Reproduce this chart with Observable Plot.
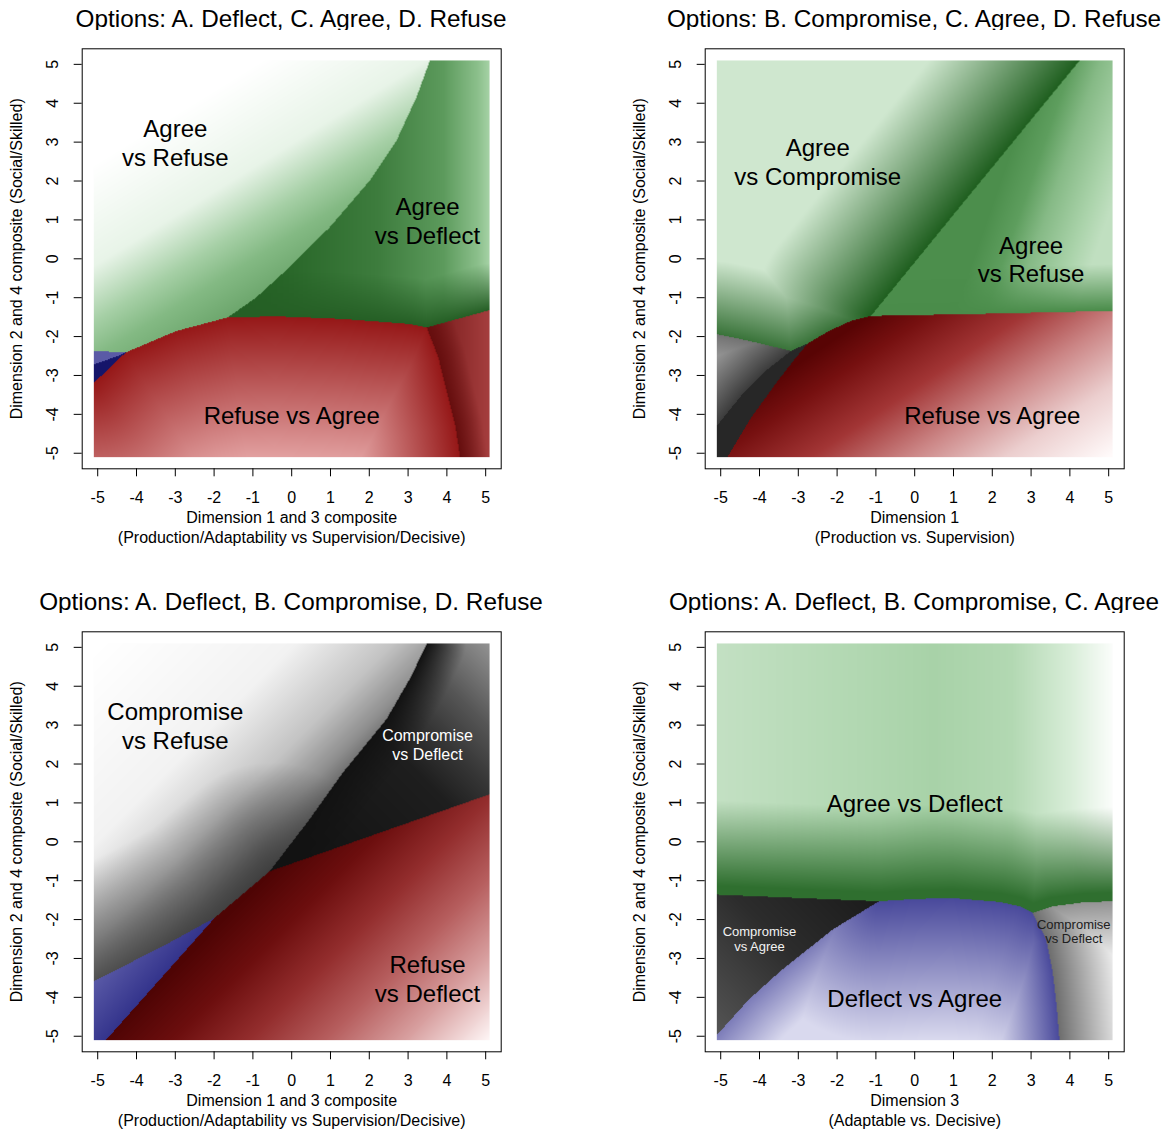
<!DOCTYPE html>
<html><head><meta charset="utf-8">
<script src="https://cdn.jsdelivr.net/npm/d3@7"></script>
<script src="https://cdn.jsdelivr.net/npm/@observablehq/plot@0.6"></script>
<style>
body{margin:0;background:#fff;font-family:"Liberation Sans",Arial,sans-serif;}
#root{position:relative;width:1163px;height:1132px;overflow:hidden;background:#fff;}
.panel{position:absolute;}
.title{position:absolute;font-size:24.3px;line-height:28px;text-align:center;white-space:nowrap;color:#000;}
</style></head><body><div id="root"></div><script>
// ---------- data: axes ----------
const xTicks = [-5,-4,-3,-2,-1,0,1,2,3,4,5];
const yTicks = [-5,-4,-3,-2,-1,0,1,2,3,4,5];
const titles = [
  "Options: A. Deflect, C. Agree, D. Refuse",
  "Options: B. Compromise, C. Agree, D. Refuse",
  "Options: A. Deflect, B. Compromise, D. Refuse",
  "Options: A. Deflect, B. Compromise, C. Agree"
];
const xTitles = [
  "Dimension 1 and 3 composite\n(Production/Adaptability vs Supervision/Decisive)",
  "Dimension 1\n(Production vs. Supervision)",
  "Dimension 1 and 3 composite\n(Production/Adaptability vs Supervision/Decisive)",
  "Dimension 3\n(Adaptable vs. Decisive)"
];
const yTitle = "Dimension 2 and 4 composite (Social/Skilled)";
const E = 5.1; // extent of the evaluated grid

// ---------- data: region boundaries ----------
// Panel 1
const p1Diag = [[3.56,5.1],[3.22,4.16],[2.70,3.04],[2.01,2.01],[0.98,0.81],[-0.06,-0.22],[-0.92,-1.0],[-1.65,-1.51]];
const p1RedTopLeft = [[-4.28,-2.41],[-2.98,-1.86],[-1.65,-1.51]];
const p1RedTopRight = [[-1.65,-1.51],[-0.40,-1.48],[1.32,-1.55],[3.04,-1.68],[3.48,-1.77]];
const p1DarkRedTop = [[3.48,-1.77],[5.1,-1.32]];
const p1DarkRedLeft = [[3.48,-1.77],[3.78,-2.54],[3.99,-3.40],[4.21,-4.26],[4.34,-5.1]];
const p1BlueTop = [[-5.1,-2.37],[-4.28,-2.41]];
const p1BlueSplit = [[-4.28,-2.41],[-4.4,-2.47],[-5.1,-2.72]];
const p1BlueBottom = [[-4.28,-2.41],[-5.1,-3.19]];
// Panel 2
const p2Diag = [[4.25,5.1],[1.56,1.82],[-1.13,-1.47]];
const p2RedTop = [[-1.13,-1.47],[2,-1.41],[5.1,-1.34]];
const p2RedGreen = [[-2.76,-2.18],[-2.2,-1.85],[-1.64,-1.6],[-1.13,-1.47]];
const p2BlackTop = [[-3.19,-2.37],[-2.76,-2.18]];
const p2GrayTop = [[-5.1,-1.94],[-4.28,-2.11],[-3.19,-2.37]];
const p2GrayBlack = [[-3.19,-2.37],[-3.85,-2.89],[-4.45,-3.49],[-5.1,-4.3]];
const p2BlackRed = [[-2.76,-2.18],[-3.1,-2.59],[-3.53,-3.14],[-4.22,-4.09],[-4.83,-5.1]];
// Panel 3
const p3Diag = [[3.49,5.1],[3.04,4.18],[2.44,3.15],[1.32,1.78],[0.46,0.58],[-0.57,-0.76]];
const p3RedTop = [[-0.57,-0.76],[5.1,1.22]];
const p3GrayRed = [[-0.57,-0.76],[-1.99,-1.96]];
const p3BlueRed = [[-1.99,-1.96],[-4.79,-5.1]];
const p3GrayBlue = [[-1.99,-1.96],[-3.2,-2.62],[-5.1,-3.59]];
// Panel 4
const p4GreenBlack = [[-5.1,-1.36],[-0.92,-1.53]];
const p4GreenBlue = [[-0.92,-1.53],[0.03,-1.47],[0.98,-1.45],[2.18,-1.55],[2.7,-1.66],[3.04,-1.83]];
const p4GreenGray = [[3.04,-1.83],[3.56,-1.66],[4.34,-1.56],[5.1,-1.53]];
const p4BlackBlue = [[-0.92,-1.53],[-2.12,-2.26],[-3.42,-3.29],[-4.28,-4.06],[-5.1,-4.97]];
const p4BlueGray = [[3.04,-1.83],[3.39,-2.52],[3.56,-3.38],[3.66,-4.25],[3.73,-5.1]];

// ---------- data: region labels ----------
const labels1 = [{x:-3,y:3,text:"Agree\nvs Refuse"},{x:3.5,y:1,text:"Agree\nvs Deflect"},{x:0,y:-4,text:"Refuse vs Agree"}];
const labels2 = [{x:-2.5,y:2.5,text:"Agree\nvs Compromise"},{x:3,y:0,text:"Agree\nvs Refuse"},{x:2,y:-4,text:"Refuse vs Agree"}];
const labels3 = [{x:-3,y:3,text:"Compromise\nvs Refuse"},{x:3.5,y:-3.5,text:"Refuse\nvs Deflect"}];
const labels3small = [{x:3.5,y:2.5,text:"Compromise\nvs Deflect"}];
const labels4 = [{x:0,y:1,text:"Agree vs Deflect"},{x:0,y:-4,text:"Deflect vs Agree"}];
const labels4white = [{x:-4,y:-2.5,text:"Compromise\nvs Agree"}];
const labels4dark = [{x:4.1,y:-2.3,text:"Compromise\nvs Deflect"}];

// ---------- helpers ----------
const rev = a => a.slice().reverse();
const poly = (...parts) => parts.flat();
function segDist(x, y, a, b) {
  const dx = b[0]-a[0], dy = b[1]-a[1];
  const l2 = dx*dx + dy*dy;
  let t = l2 ? ((x-a[0])*dx + (y-a[1])*dy)/l2 : 0;
  t = Math.max(0, Math.min(1, t));
  return Math.hypot(a[0]+t*dx-x, a[1]+t*dy-y);
}
function lineDist(x, y, lines) {
  let m = Infinity;
  for (const pts of lines) for (let i = 0; i < pts.length-1; i++) m = Math.min(m, segDist(x, y, pts[i], pts[i+1]));
  return m;
}
function shader(s) {
  let base;
  if (typeof s.base === "string") base = () => s.base;
  else {
    const sc = d3.scaleLinear().domain(s.base.stops.map(d=>d[0])).range(s.base.stops.map(d=>d[1])).clamp(true);
    const [a,b] = s.base.dir;
    base = (x,y) => sc(a*x + b*y);
  }
  const edges = s.edges || [];
  const g = s.gamma ?? 1;
  return (x, y) => {
    const c = base(x, y);
    if (!edges.length) return c;
    let t = 1;
    for (const e of edges) t = Math.min(t, (e.t0 || 0) + lineDist(x, y, e.lines)/e.fade);
    if (t >= 1) return c;
    return d3.interpolateRgb(s.dark, c)(Math.pow(Math.max(0, t), g));
  };
}

// ---------- regions with their shading (style) ----------
const regions = [
 [ // panel 1
  {poly: poly([[-E,E]], p1Diag, rev(p1RedTopLeft), rev(p1BlueTop)),
   shade: {base:{dir:[1,-1.62], stops:[[-9,"#ffffff"],[-4.8,"#e8f4e8"],[-2.5,"#a6d0a6"],[-1,"#84ba84"],[1,"#6aa46a"]]}}},
  {poly: poly([[E,E]], rev(p1DarkRedTop), rev(p1RedTopRight), rev(p1Diag)),
   shade: {base:{dir:[1,0], stops:[[-1.7,"#1f5c1f"],[0,"#2a682a"],[2.2,"#3d7c3d"],[3.9,"#5c9a5c"],[4.8,"#8cc08c"],[5.1,"#a6d2a6"]]},
           dark:"#255f25", edges:[{lines:[p1RedTopRight,p1DarkRedTop], fade:1.2}]}},
  {poly: poly(p1DarkRedTop, [[E,-E]], rev(p1DarkRedLeft)),
   shade: {base:{dir:[1,0], stops:[[3.5,"#741818"],[5.1,"#a53e3e"]]}, dark:"#660e0e", edges:[{lines:[p1DarkRedLeft], fade:0.7}]}},
  {poly: poly(p1BlueTop, p1BlueSplit), shade:{base:"#5a5aa6"}},
  {poly: poly(p1BlueSplit, rev(p1BlueBottom)), shade:{base:"#15156a"}},
  {poly: null, shade:{base:"#e2a0a0", dark:"#961818",
   edges:[{lines:[p1BlueBottom,p1RedTopLeft,p1RedTopRight], fade:3.6},{lines:[p1DarkRedLeft], fade:2.6}]}}
 ],
 [ // panel 2
  {poly: poly([[E,E]], rev(p2RedTop), rev(p2Diag)),
   shade: {base:{dir:[1,-0.35], stops:[[1.5,"#4c8e4c"],[2.3,"#5e9e5e"],[3,"#86ba86"],[4,"#aad3aa"],[4.6,"#c0dfc0"]]},
           dark:"#4a8c4a", edges:[{lines:[p2RedTop], fade:1.2}]}},
  {poly: poly(p2RedGreen, p2RedTop, [[E,-E]], rev(p2BlackRed)),
   shade: {base:{dir:[1,-1.5], stops:[[1,"#580404"],[2.5,"#761010"],[5,"#a33636"],[7.5,"#cc8686"],[10,"#eccfcf"],[12.6,"#fffafa"]]}}},
  {poly: poly(p2GrayTop, p2GrayBlack),
   shade: {base:"#b6b6b6", dark:"#3c3c3c", edges:[{lines:[p2GrayBlack], fade:1.6},{lines:[p2GrayTop], t0:0.45, fade:2}]}},
  {poly: poly(p2BlackTop, p2BlackRed, [[-E,-E]], rev(p2GrayBlack)), shade:{base:"#272727"}},
  {poly: null, shade:{base:"#cfe7cf", dark:"#1f5f1f",
   edges:[{lines:[p2Diag], fade:3},{lines:[p2GrayTop,p2BlackTop,p2RedGreen], t0:0.15, fade:2.2}]}}
 ],
 [ // panel 3
  {poly: poly([[E,E]], rev(p3RedTop), rev(p3Diag)),
   shade: {base:{dir:[1,1], stops:[[0,"#121212"],[5,"#1e1e1e"],[6.5,"#363636"],[8,"#555555"],[10.2,"#939393"]]},
           dark:"#121212", edges:[{lines:[p3Diag], fade:1.0}]}},
  {poly: poly(p3RedTop, [[E,-E]], rev(p3BlueRed), rev(p3GrayRed)),
   shade: {base:{dir:[1,-1], stops:[[0.2,"#4e0404"],[2,"#6c0e0e"],[4,"#942e2e"],[6,"#b75f5f"],[8,"#d89f9f"],[10.2,"#fff6f6"]]}}},
  {poly: poly(p3BlueRed, [[-E,-E]], rev(p3GrayBlue)),
   shade: {base:"#6464ae", dark:"#34348c", edges:[{lines:[p3BlueRed], fade:1.6}]}},
  {poly: null, shade:{base:{dir:[1,-1], stops:[[-10,"#ffffff"],[-5,"#f2f2f2"],[-2.5,"#c4c4c4"],[-1,"#8e8e8e"],[0,"#5a5a5a"],[0.3,"#404040"]]},
   dark:"#3c3c3c", edges:[{lines:[p3GrayBlue,p3GrayRed], t0:0.2, fade:3.5}]}}
 ],
 [ // panel 4
  {poly: poly(p4GreenBlack, p4BlackBlue),
   shade: {base:{dir:[-1,-1], stops:[[2.4,"#1b1b1b"],[6,"#2c2c2c"],[10,"#545454"]]}}},
  {poly: poly(p4GreenBlue, p4BlueGray, [[-E,-E]], rev(p4BlackBlue)),
   shade: {base:"#d9d9ee", dark:"#4a4a9c", edges:[{lines:[p4GreenBlue], fade:3.6},{lines:[p4BlueGray], fade:1.6},{lines:[p4BlackBlue], t0:0.35, fade:2}]}},
  {poly: poly(p4GreenGray, [[E,-E]], rev(p4BlueGray)),
   shade: {base:"#ececec", dark:"#6e6e6e", edges:[{lines:[p4BlueGray], fade:1.6},{lines:[p4GreenGray], t0:0.3, fade:2}]}},
  {poly: null, shade:{base:{dir:[1,0], stops:[[-5.1,"#c3e0c3"],[-2,"#b4d9b4"],[0.5,"#a8d2a8"],[2.5,"#b2d8b2"],[4,"#d8edd8"],[5.1,"#fbfdfb"]]},
   dark:"#2f6f2f", edges:[{lines:[p4GreenBlack,p4GreenBlue,p4GreenGray], t0:-0.1, fade:2.2}]}}
 ]
];

function regionFill(list) {
  const rs = list.map(r => ({poly: r.poly, f: shader(r.shade)}));
  return (x, y) => {
    for (const r of rs) if (!r.poly || d3.polygonContains(r.poly, [x, y])) return r.f(x, y);
    return "#ffffff";
  };
}

const panelPos = [[0,0],[623,0],[0,583],[623,583]];
const labelSets = [
  [{data: labels1, size: 24, lh: 1.2, color: "#000"}],
  [{data: labels2, size: 24, lh: 1.2, color: "#000"}],
  [{data: labels3, size: 24, lh: 1.2, color: "#000"}, {data: labels3small, size: 16, lh: 1.19, color: "#ffffff"}],
  [{data: labels4, size: 24, lh: 1.2, color: "#000"}, {data: labels4white, size: 13, lh: 1.15, color: "#f2f2f2"}, {data: labels4dark, size: 13, lh: 1.15, color: "#202020"}]
];

const root = document.getElementById("root");
panelPos.forEach(([ox, oy], i) => {
  const t = document.createElement("div");
  t.className = "title";
  t.style.left = (ox + 291 - 300) + "px";
  t.style.width = "600px";
  t.style.top = (oy + 5) + "px";
  t.textContent = titles[i];
  root.appendChild(t);

  const chart = Plot.plot({
    width: 540, height: 520,
    marginLeft: 81.7, marginRight: 39.3, marginTop: 18.3, marginBottom: 81.7,
    x: {domain: [-5.4, 5.4]},
    y: {domain: [-5.4, 5.4]},
    style: {fontFamily: '"Liberation Sans", Arial, sans-serif', fontSize: "16px", color: "black", background: "white"},
    marks: [
      Plot.raster({fill: regionFill(regions[i]), x1: -E, x2: E, y1: -E, y2: E, pixelSize: 1}),
      ...labelSets[i].map(g => Plot.text(g.data, {x: "x", y: "y", text: "text", fontSize: g.size, lineHeight: g.lh, fill: g.color})),
      Plot.frame({stroke: "black", strokeWidth: 1}),
      Plot.axisX(xTicks, {tickSize: 8, tickPadding: 15, tickFormat: d => String(d), fontSize: 16, label: null}),
      Plot.axisY(yTicks, {tickSize: 8, tickPadding: 16, tickRotate: -90, tickFormat: d => String(d), fontSize: 16, label: null}),
      Plot.text([xTitles[i]], {text: d => d, frameAnchor: "bottom", dy: 40, lineAnchor: "top", textAnchor: "middle", fontSize: 16, lineHeight: 1.25}),
      Plot.text([yTitle], {text: d => d, frameAnchor: "left", dx: -65.7, rotate: -90, textAnchor: "middle", fontSize: 16})
    ]
  });
  const wrap = document.createElement("div");
  wrap.className = "panel";
  wrap.style.left = ox + "px";
  wrap.style.top = (oy + 30) + "px";
  wrap.appendChild(chart);
  root.appendChild(wrap);
});
</script></body></html>
